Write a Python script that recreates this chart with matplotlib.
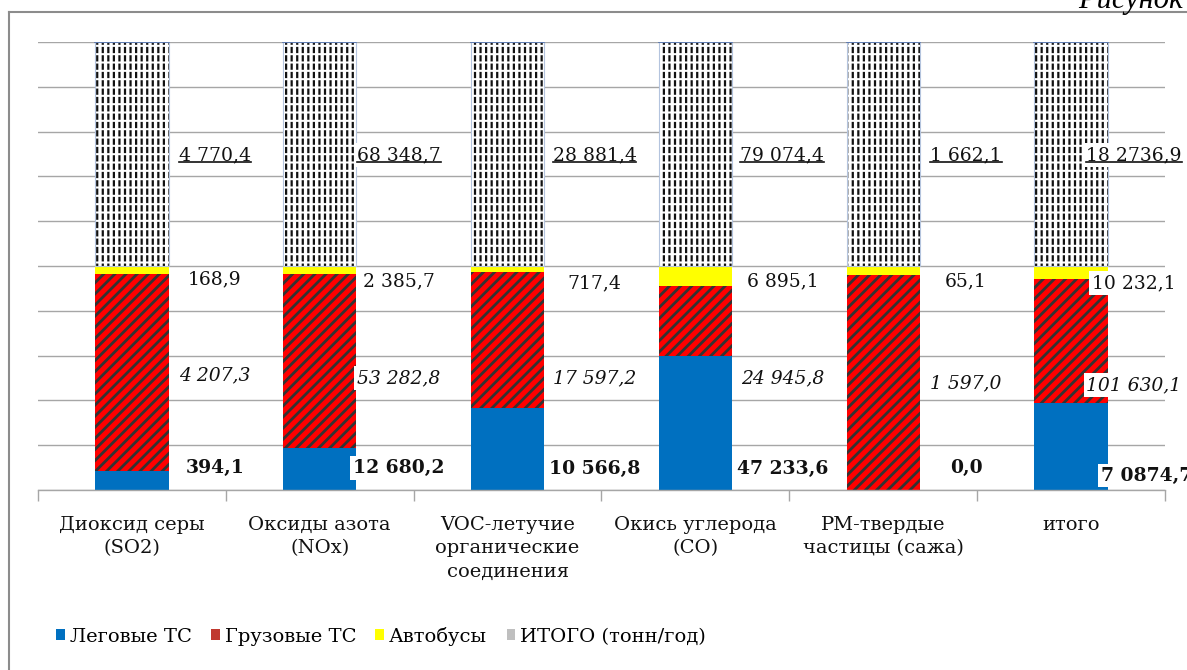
import matplotlib
matplotlib.use('Agg')
import matplotlib.pyplot as plt
from matplotlib.patches import Patch
from matplotlib.lines import Line2D
import numpy as np

categories = ['Диоксид серы\n(SO2)', 'Оксиды азота\n(NOx)', 'VOC-летучие\nорганические\nсоединения',
              'Окись углерода\n(CO)', 'PM-твердые\nчастицы (сажа)', 'итого']
legk = [394.1, 12680.2, 10566.8, 47233.6, 0.0, 70874.7]
gruz = [4207.3, 53282.8, 17597.2, 24945.8, 1597.0, 101630.1]
bus = [168.9, 2385.7, 717.4, 6895.1, 65.1, 10232.1]
itogo = [4770.4, 68348.7, 28881.4, 79074.4, 1662.1, 182736.9]

legk_labels = ['394,1', '12 680,2', '10 566,8', '47 233,6', '0,0', '7 0874,7']
gruz_labels = ['4 207,3', '53 282,8', '17 597,2', '24 945,8', '1 597,0', '101 630,1']
bus_labels = ['168,9', '2 385,7', '717,4', '6 895,1', '65,1', '10 232,1']
itogo_labels = ['4 770,4', '68 348,7', '28 881,4', '79 074,4', '1 662,1', '18 2736,9']
series_names = ['Леговые ТС', 'Грузовые ТС', 'Автобусы', 'ИТОГО (тонн/год)']

FONT = 'DejaVu Serif'
plt.rcParams['font.family'] = [FONT, 'DejaVu Sans']

L = np.array(legk); G = np.array(gruz); B = np.array(bus); T = np.array(itogo)
tot = L + G + B + T
pl, pg, pb, pt = L / tot * 100, G / tot * 100, B / tot * 100, T / tot * 100
x = np.arange(len(categories))
w = 0.39

W, H = 1187, 670
fig = plt.figure(figsize=(W / 100, H / 100), dpi=100)
ax = fig.add_axes([38 / W, 180 / H, 1127 / W, 448 / H])


def hlw(p, v):
    if hasattr(p, 'set_hatch_linewidth'):
        p.set_hatch_linewidth(v)


ax.bar(x, pl, w, color='#0070C0', lw=0, zorder=2)
for r in ax.bar(x, pg, w, bottom=pl, facecolor='#FF0000', edgecolor='#333333', lw=0, hatch='///', zorder=2):
    hlw(r, 2.0)
ax.bar(x, pb, w, bottom=pl + pg, color='#FFFF00', lw=0, zorder=2)
b0 = pl + pg + pb
for r in ax.bar(x, pt, w, bottom=b0, facecolor='white', edgecolor='#111111', lw=0, hatch='|||', zorder=2):
    hlw(r, 1.6)
for r in ax.bar(x, pt, w, bottom=b0, facecolor='none', edgecolor='white', lw=0, hatch='--', zorder=2.1):
    hlw(r, 1.5)
ax.bar(x, pt, w, bottom=b0, facecolor='none', edgecolor='#B4C4DE', lw=0.8, zorder=2.2)
ax.plot([x - w / 2, x + w / 2], [b0 + pt, b0 + pt], color='#4F6EA8', lw=1.2, zorder=2.3)

ax.set_xlim(-0.5, len(categories) - 0.5)
ax.set_ylim(0, 100)
ax.set_yticks(np.arange(0, 101, 10))
ax.set_yticklabels([])
ax.tick_params(axis='y', length=0)
ax.yaxis.grid(True, color='#A6A6A6', lw=1)
ax.set_axisbelow(True)
for s in ['left', 'right', 'top']:
    ax.spines[s].set_visible(False)
ax.spines['bottom'].set_color('#A6A6A6')
ax.spines['bottom'].set_linewidth(1)

ax.set_xticks(x)
ax.set_xticklabels(categories, fontsize=14, linespacing=1.36, color='#111111')
ax.set_xticks(np.arange(-0.5, len(categories), 1), minor=True)
ax.tick_params(axis='x', which='major', length=0, pad=19)
ax.tick_params(axis='x', which='minor', length=8, color='#A6A6A6', width=1)

offs = [0.441, 0.42, 0.463, 0.463, 0.441, 0.335]
offs_l = [0.441, 0.42, 0.463, 0.463, 0.441, 0.40]
y_t = [74.8] * 6
y_b = [47.0, 46.6, 46.2, 46.6, 46.6, 46.2]
y_g = [25.6, 25.0, 25.0, 25.0, 23.9, 23.4]
y_l = [4.9, 4.9, 4.6, 4.6, 5.0, 3.2]

bb = dict(facecolor='white', edgecolor='none', pad=2)
under = []
for i in range(len(categories)):
    t = ax.text(x[i] + offs[i], y_t[i], itogo_labels[i], ha='center', va='center', fontsize=13.5,
                bbox=bb, zorder=5, color='#111111')
    under.append(t)
    ax.text(x[i] + offs[i], y_b[i], bus_labels[i], ha='center', va='center', fontsize=13.5,
            bbox=bb, zorder=5, color='#111111')
    ax.text(x[i] + offs[i], y_g[i], gruz_labels[i], ha='center', va='center', fontsize=13.5,
            style='italic', bbox=bb, zorder=5, color='#111111')
    ax.text(x[i] + offs_l[i], y_l[i], legk_labels[i], ha='center', va='center', fontsize=13.5,
            weight='bold', bbox=bb, zorder=5, color='#111111')

handles = [Patch(facecolor='#0070C0'), Patch(facecolor='#C0392F'),
           Patch(facecolor='#FFFF00'), Patch(facecolor='#BFBFBF')]
fig.legend(handles, series_names, loc='center left', bbox_to_anchor=(56 / W, 1 - 636 / H), ncol=4,
           frameon=False, handlelength=0.45, handleheight=0.45, handletextpad=0.25, columnspacing=1.0,
           fontsize=14, borderaxespad=0, borderpad=0)

fig.add_artist(Line2D([9 / W, 9 / W], [0, 1 - 12 / H], color='#8C8C8C', lw=1.5))
fig.add_artist(Line2D([9 / W, 1], [1 - 12 / H, 1 - 12 / H], color='#8C8C8C', lw=1.5))
fig.text(1078 / W, 1 - 8 / H, 'Рисунок', style='italic', fontsize=22, va='baseline', ha='left',
         family='Liberation Serif')

fig.canvas.draw()
r = fig.canvas.get_renderer()
inv = fig.transFigure.inverted()
for t in under:
    e = t.get_window_extent(r)
    (x0, y0), (x1, _) = inv.transform([[e.x0, e.y0 + 2], [e.x1, e.y0 + 2]])
    fig.add_artist(Line2D([x0, x1], [y0, y0], color='#111111', lw=1.2, zorder=10))

fig.savefig('out.png', dpi=100)
